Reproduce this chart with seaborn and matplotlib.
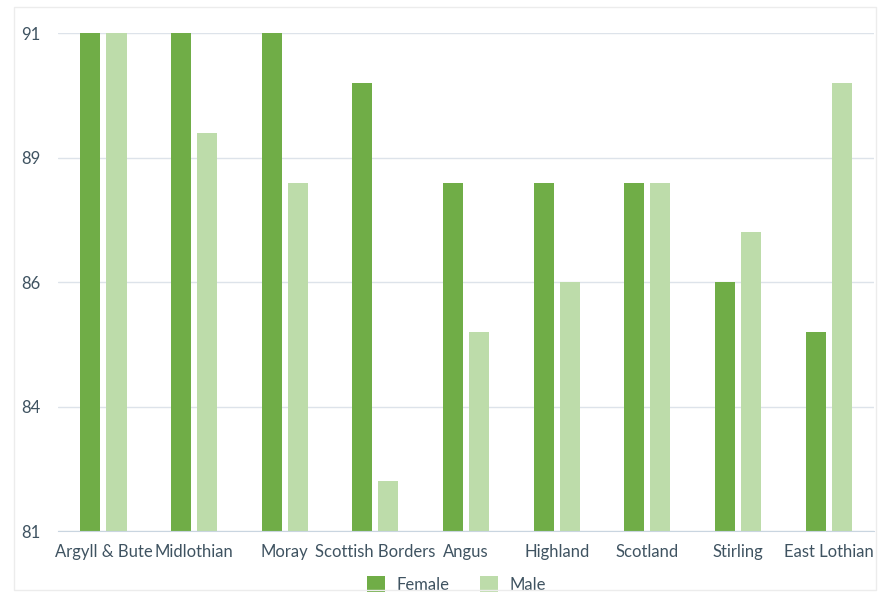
import pandas as pd
import seaborn as sns
import matplotlib.pyplot as plt
from matplotlib.patches import Rectangle

# Values
areas = ['Argyll & Bute', 'Midlothian', 'Moray', 'Scottish Borders', 'Angus',
         'Highland', 'Scotland', 'Stirling', 'East Lothian']
female = [91, 91, 91, 90, 88, 88, 88, 86, 85]
male = [91, 89, 88, 82, 85, 86, 88, 87, 90]
ytick_vals = [81, 83.5, 86, 88.5, 91]
ytick_labels = ['81', '84', '86', '89', '91']

df = pd.DataFrame({'Area': areas * 2,
                   'Sex': ['Female'] * len(areas) + ['Male'] * len(areas),
                   'Value': female + male})

sns.set_style('white')
plt.rcParams['font.family'] = ['Lato', 'DejaVu Sans']
text_col = '#3f5361'

fig = plt.figure(figsize=(8.81, 5.94), dpi=100)
ax = fig.add_axes([0.066, 0.106, 0.926, 0.838])

sns.barplot(data=df, x='Area', y='Value', hue='Sex',
            palette={'Female': '#70ad47', 'Male': '#bddcaa'}, saturation=1,
            width=0.575, gap=0.23, linewidth=0, ax=ax)

ax.set_ylim(81, 91)
ax.set_yticks(ytick_vals)
ax.set_yticklabels(ytick_labels)
ax.yaxis.grid(True, color='#dde3ea', linewidth=1)
ax.set_axisbelow(True)
for s in ['top', 'right', 'left']:
    ax.spines[s].set_visible(False)
ax.spines['bottom'].set_color('#c9d5e0')
ax.tick_params(axis='y', length=0, pad=13, labelsize=12, labelcolor=text_col)
ax.tick_params(axis='x', length=0, pad=9, labelsize=12, labelcolor=text_col)
ax.set_xlabel('')
ax.set_ylabel('')

ax.legend(loc='upper center', bbox_to_anchor=(0.488, -0.06), ncol=2,
          frameon=False, fontsize=12, labelcolor=text_col,
          handlelength=1.1, handleheight=1.1, columnspacing=1.8,
          handletextpad=0.7)

# faint frame round the whole chart
fig.patches.append(Rectangle((14 / 881, 4 / 594), 862 / 881, 583 / 594,
                             transform=fig.transFigure, fill=False,
                             edgecolor='#ececec', linewidth=1))

fig.savefig('out.png', dpi=100)
